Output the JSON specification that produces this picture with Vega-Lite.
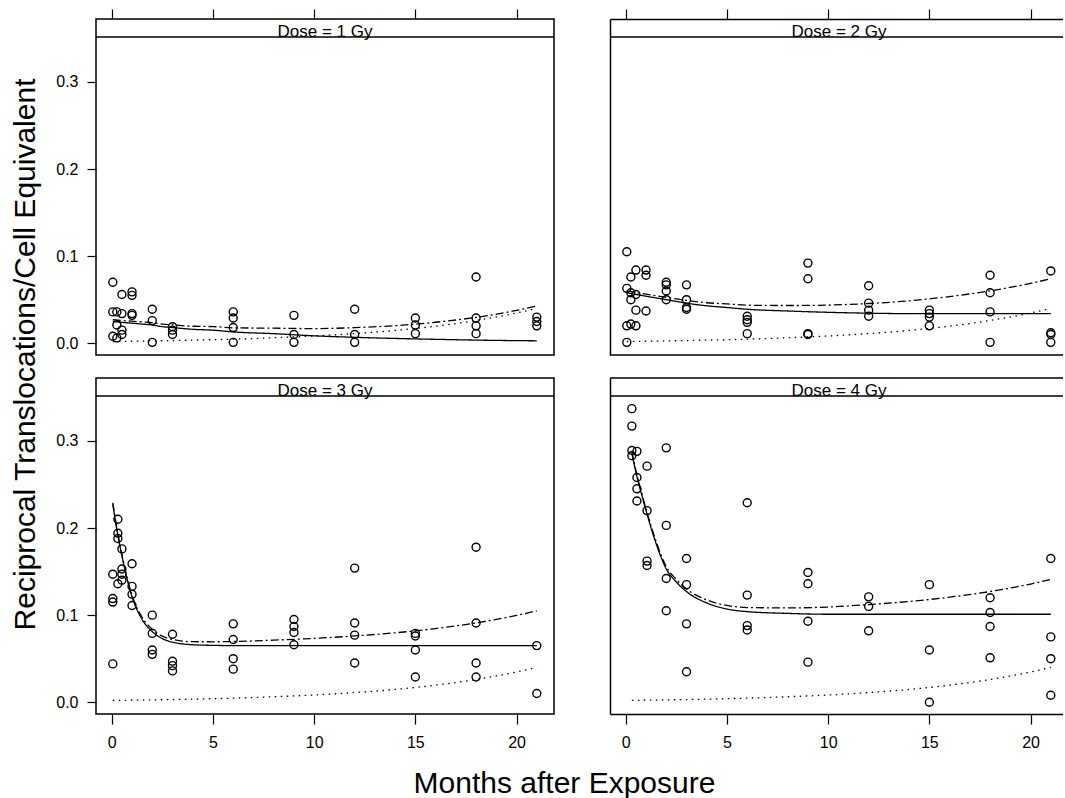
{
"$schema": "https://vega.github.io/schema/vega-lite/v6.json",
"background": "white",
"autosize": {"type": "pad"},
"padding": {"left": 9, "top": 7, "right": -6, "bottom": 0},
"datasets": {
"pts": [
{"d":1,"t":0.05,"y":0.070},{"d":1,"t":0.05,"y":0.036},{"d":1,"t":0.05,"y":0.008},{"d":1,"t":0.25,"y":0.036},{"d":1,"t":0.25,"y":0.021},{"d":1,"t":0.25,"y":0.006},{"d":1,"t":0.5,"y":0.056},{"d":1,"t":0.5,"y":0.034},{"d":1,"t":0.5,"y":0.015},{"d":1,"t":0.5,"y":0.010},{"d":1,"t":1,"y":0.059},{"d":1,"t":1,"y":0.055},{"d":1,"t":1,"y":0.034},{"d":1,"t":1,"y":0.032},{"d":1,"t":2,"y":0.039},{"d":1,"t":2,"y":0.026},{"d":1,"t":2,"y":0.001},{"d":1,"t":3,"y":0.019},{"d":1,"t":3,"y":0.015},{"d":1,"t":3,"y":0.010},{"d":1,"t":6,"y":0.036},{"d":1,"t":6,"y":0.029},{"d":1,"t":6,"y":0.018},{"d":1,"t":6,"y":0.001},{"d":1,"t":9,"y":0.032},{"d":1,"t":9,"y":0.010},{"d":1,"t":9,"y":0.001},{"d":1,"t":12,"y":0.039},{"d":1,"t":12,"y":0.010},{"d":1,"t":12,"y":0.001},{"d":1,"t":15,"y":0.029},{"d":1,"t":15,"y":0.021},{"d":1,"t":15,"y":0.011},{"d":1,"t":18,"y":0.076},{"d":1,"t":18,"y":0.029},{"d":1,"t":18,"y":0.020},{"d":1,"t":18,"y":0.011},{"d":1,"t":21,"y":0.030},{"d":1,"t":21,"y":0.025},{"d":1,"t":21,"y":0.020},
{"d":2,"t":0.05,"y":0.105},{"d":2,"t":0.05,"y":0.063},{"d":2,"t":0.05,"y":0.020},{"d":2,"t":0.05,"y":0.001},{"d":2,"t":0.25,"y":0.076},{"d":2,"t":0.25,"y":0.058},{"d":2,"t":0.25,"y":0.050},{"d":2,"t":0.25,"y":0.022},{"d":2,"t":0.5,"y":0.084},{"d":2,"t":0.5,"y":0.056},{"d":2,"t":0.5,"y":0.038},{"d":2,"t":0.5,"y":0.020},{"d":2,"t":1,"y":0.084},{"d":2,"t":1,"y":0.078},{"d":2,"t":1,"y":0.037},{"d":2,"t":2,"y":0.070},{"d":2,"t":2,"y":0.067},{"d":2,"t":2,"y":0.060},{"d":2,"t":2,"y":0.050},{"d":2,"t":3,"y":0.067},{"d":2,"t":3,"y":0.050},{"d":2,"t":3,"y":0.041},{"d":2,"t":3,"y":0.039},{"d":2,"t":6,"y":0.031},{"d":2,"t":6,"y":0.027},{"d":2,"t":6,"y":0.024},{"d":2,"t":6,"y":0.011},{"d":2,"t":9,"y":0.092},{"d":2,"t":9,"y":0.074},{"d":2,"t":9,"y":0.011},{"d":2,"t":9,"y":0.010},{"d":2,"t":12,"y":0.066},{"d":2,"t":12,"y":0.046},{"d":2,"t":12,"y":0.038},{"d":2,"t":12,"y":0.031},{"d":2,"t":15,"y":0.038},{"d":2,"t":15,"y":0.034},{"d":2,"t":15,"y":0.030},{"d":2,"t":15,"y":0.020},{"d":2,"t":18,"y":0.078},{"d":2,"t":18,"y":0.058},{"d":2,"t":18,"y":0.036},{"d":2,"t":18,"y":0.001},{"d":2,"t":21,"y":0.083},{"d":2,"t":21,"y":0.012},{"d":2,"t":21,"y":0.010},{"d":2,"t":21,"y":0.001},
{"d":3,"t":0.05,"y":0.147},{"d":3,"t":0.05,"y":0.119},{"d":3,"t":0.05,"y":0.115},{"d":3,"t":0.05,"y":0.044},{"d":3,"t":0.3,"y":0.210},{"d":3,"t":0.3,"y":0.194},{"d":3,"t":0.3,"y":0.188},{"d":3,"t":0.3,"y":0.136},{"d":3,"t":0.5,"y":0.176},{"d":3,"t":0.5,"y":0.153},{"d":3,"t":0.5,"y":0.147},{"d":3,"t":0.5,"y":0.140},{"d":3,"t":1,"y":0.159},{"d":3,"t":1,"y":0.133},{"d":3,"t":1,"y":0.124},{"d":3,"t":1,"y":0.111},{"d":3,"t":2,"y":0.100},{"d":3,"t":2,"y":0.079},{"d":3,"t":2,"y":0.060},{"d":3,"t":2,"y":0.055},{"d":3,"t":3,"y":0.078},{"d":3,"t":3,"y":0.047},{"d":3,"t":3,"y":0.042},{"d":3,"t":3,"y":0.036},{"d":3,"t":6,"y":0.090},{"d":3,"t":6,"y":0.072},{"d":3,"t":6,"y":0.050},{"d":3,"t":6,"y":0.038},{"d":3,"t":9,"y":0.095},{"d":3,"t":9,"y":0.087},{"d":3,"t":9,"y":0.080},{"d":3,"t":9,"y":0.066},{"d":3,"t":12,"y":0.154},{"d":3,"t":12,"y":0.091},{"d":3,"t":12,"y":0.077},{"d":3,"t":12,"y":0.045},{"d":3,"t":15,"y":0.079},{"d":3,"t":15,"y":0.076},{"d":3,"t":15,"y":0.060},{"d":3,"t":15,"y":0.029},{"d":3,"t":18,"y":0.178},{"d":3,"t":18,"y":0.091},{"d":3,"t":18,"y":0.045},{"d":3,"t":18,"y":0.029},{"d":3,"t":21,"y":0.065},{"d":3,"t":21,"y":0.010},
{"d":4,"t":0.3,"y":0.337},{"d":4,"t":0.3,"y":0.317},{"d":4,"t":0.3,"y":0.289},{"d":4,"t":0.3,"y":0.283},{"d":4,"t":0.55,"y":0.288},{"d":4,"t":0.55,"y":0.258},{"d":4,"t":0.55,"y":0.245},{"d":4,"t":0.55,"y":0.231},{"d":4,"t":1.05,"y":0.271},{"d":4,"t":1.05,"y":0.220},{"d":4,"t":1.05,"y":0.162},{"d":4,"t":1.05,"y":0.157},{"d":4,"t":2,"y":0.292},{"d":4,"t":2,"y":0.203},{"d":4,"t":2,"y":0.142},{"d":4,"t":2,"y":0.105},{"d":4,"t":3,"y":0.165},{"d":4,"t":3,"y":0.135},{"d":4,"t":3,"y":0.090},{"d":4,"t":3,"y":0.035},{"d":4,"t":6,"y":0.229},{"d":4,"t":6,"y":0.123},{"d":4,"t":6,"y":0.088},{"d":4,"t":6,"y":0.083},{"d":4,"t":9,"y":0.149},{"d":4,"t":9,"y":0.136},{"d":4,"t":9,"y":0.093},{"d":4,"t":9,"y":0.046},{"d":4,"t":12,"y":0.121},{"d":4,"t":12,"y":0.110},{"d":4,"t":12,"y":0.082},{"d":4,"t":15,"y":0.135},{"d":4,"t":15,"y":0.060},{"d":4,"t":15,"y":0.000},{"d":4,"t":18,"y":0.120},{"d":4,"t":18,"y":0.103},{"d":4,"t":18,"y":0.087},{"d":4,"t":18,"y":0.051},{"d":4,"t":21,"y":0.165},{"d":4,"t":21,"y":0.075},{"d":4,"t":21,"y":0.050},{"d":4,"t":21,"y":0.008}
],
"fits": [
{"d":1,"c":"fit","t":0.05,"y":0.025},{"d":1,"c":"fit","t":0.5,"y":0.024},{"d":1,"c":"fit","t":1,"y":0.023},{"d":1,"c":"fit","t":1.5,"y":0.022},{"d":1,"c":"fit","t":2,"y":0.021},{"d":1,"c":"fit","t":2.5,"y":0.019},{"d":1,"c":"fit","t":3,"y":0.018},{"d":1,"c":"fit","t":4,"y":0.016},{"d":1,"c":"fit","t":5,"y":0.015},{"d":1,"c":"fit","t":6,"y":0.013},{"d":1,"c":"fit","t":8,"y":0.011},{"d":1,"c":"fit","t":10,"y":0.0085},{"d":1,"c":"fit","t":12,"y":0.0068},{"d":1,"c":"fit","t":14,"y":0.0055},{"d":1,"c":"fit","t":16,"y":0.0045},{"d":1,"c":"fit","t":18,"y":0.0036},{"d":1,"c":"fit","t":20,"y":0.003},{"d":1,"c":"fit","t":21,"y":0.0028},
{"d":1,"c":"sum","t":0.05,"y":0.027},{"d":1,"c":"sum","t":0.5,"y":0.0261},{"d":1,"c":"sum","t":1,"y":0.0253},{"d":1,"c":"sum","t":1.5,"y":0.0245},{"d":1,"c":"sum","t":2,"y":0.0237},{"d":1,"c":"sum","t":2.5,"y":0.0219},{"d":1,"c":"sum","t":3,"y":0.0211},{"d":1,"c":"sum","t":4,"y":0.0195},{"d":1,"c":"sum","t":5,"y":0.0191},{"d":1,"c":"sum","t":6,"y":0.0177},{"d":1,"c":"sum","t":8,"y":0.0173},{"d":1,"c":"sum","t":10,"y":0.0168},{"d":1,"c":"sum","t":12,"y":0.0179},{"d":1,"c":"sum","t":14,"y":0.0202},{"d":1,"c":"sum","t":16,"y":0.0241},{"d":1,"c":"sum","t":18,"y":0.0297},{"d":1,"c":"sum","t":20,"y":0.0377},{"d":1,"c":"sum","t":21,"y":0.0428},
{"d":1,"c":"trend","t":0.05,"y":0.002},{"d":1,"c":"trend","t":3,"y":0.0031},{"d":1,"c":"trend","t":6,"y":0.0047},{"d":1,"c":"trend","t":8,"y":0.0063},{"d":1,"c":"trend","t":10,"y":0.0083},{"d":1,"c":"trend","t":12,"y":0.0111},{"d":1,"c":"trend","t":14,"y":0.0147},{"d":1,"c":"trend","t":16,"y":0.0196},{"d":1,"c":"trend","t":18,"y":0.0261},{"d":1,"c":"trend","t":20,"y":0.0347},{"d":1,"c":"trend","t":21,"y":0.040},
{"d":2,"c":"fit","t":0.05,"y":0.058},{"d":2,"c":"fit","t":0.5,"y":0.056},{"d":2,"c":"fit","t":1,"y":0.054},{"d":2,"c":"fit","t":1.5,"y":0.052},{"d":2,"c":"fit","t":2,"y":0.050},{"d":2,"c":"fit","t":2.5,"y":0.048},{"d":2,"c":"fit","t":3,"y":0.046},{"d":2,"c":"fit","t":4,"y":0.043},{"d":2,"c":"fit","t":5,"y":0.041},{"d":2,"c":"fit","t":6,"y":0.039},{"d":2,"c":"fit","t":8,"y":0.037},{"d":2,"c":"fit","t":10,"y":0.0355},{"d":2,"c":"fit","t":12,"y":0.0345},{"d":2,"c":"fit","t":14,"y":0.034},{"d":2,"c":"fit","t":16,"y":0.034},{"d":2,"c":"fit","t":18,"y":0.034},{"d":2,"c":"fit","t":20,"y":0.034},{"d":2,"c":"fit","t":21,"y":0.034},
{"d":2,"c":"sum","t":0.05,"y":0.060},{"d":2,"c":"sum","t":0.5,"y":0.0581},{"d":2,"c":"sum","t":1,"y":0.0563},{"d":2,"c":"sum","t":1.5,"y":0.0545},{"d":2,"c":"sum","t":2,"y":0.0527},{"d":2,"c":"sum","t":2.5,"y":0.0509},{"d":2,"c":"sum","t":3,"y":0.0491},{"d":2,"c":"sum","t":4,"y":0.0465},{"d":2,"c":"sum","t":5,"y":0.0451},{"d":2,"c":"sum","t":6,"y":0.0437},{"d":2,"c":"sum","t":8,"y":0.0433},{"d":2,"c":"sum","t":10,"y":0.0438},{"d":2,"c":"sum","t":12,"y":0.0456},{"d":2,"c":"sum","t":14,"y":0.0487},{"d":2,"c":"sum","t":16,"y":0.0536},{"d":2,"c":"sum","t":18,"y":0.0601},{"d":2,"c":"sum","t":20,"y":0.0687},{"d":2,"c":"sum","t":21,"y":0.074},
{"d":2,"c":"trend","t":0.05,"y":0.002},{"d":2,"c":"trend","t":3,"y":0.0031},{"d":2,"c":"trend","t":6,"y":0.0047},{"d":2,"c":"trend","t":8,"y":0.0063},{"d":2,"c":"trend","t":10,"y":0.0083},{"d":2,"c":"trend","t":12,"y":0.0111},{"d":2,"c":"trend","t":14,"y":0.0147},{"d":2,"c":"trend","t":16,"y":0.0196},{"d":2,"c":"trend","t":18,"y":0.0261},{"d":2,"c":"trend","t":20,"y":0.0347},{"d":2,"c":"trend","t":21,"y":0.040},
{"d":3,"c":"fit","t":0.05,"y":0.227},{"d":3,"c":"fit","t":0.25,"y":0.198},{"d":3,"c":"fit","t":0.5,"y":0.168},{"d":3,"c":"fit","t":0.75,"y":0.142},{"d":3,"c":"fit","t":1,"y":0.121},{"d":3,"c":"fit","t":1.5,"y":0.095},{"d":3,"c":"fit","t":2,"y":0.081},{"d":3,"c":"fit","t":2.5,"y":0.073},{"d":3,"c":"fit","t":3,"y":0.069},{"d":3,"c":"fit","t":4,"y":0.066},{"d":3,"c":"fit","t":5,"y":0.0653},{"d":3,"c":"fit","t":6,"y":0.065},{"d":3,"c":"fit","t":8,"y":0.065},{"d":3,"c":"fit","t":10,"y":0.065},{"d":3,"c":"fit","t":12,"y":0.065},{"d":3,"c":"fit","t":14,"y":0.065},{"d":3,"c":"fit","t":16,"y":0.065},{"d":3,"c":"fit","t":18,"y":0.065},{"d":3,"c":"fit","t":20,"y":0.065},{"d":3,"c":"fit","t":21,"y":0.065},
{"d":3,"c":"sum","t":0.05,"y":0.229},{"d":3,"c":"sum","t":0.25,"y":0.200},{"d":3,"c":"sum","t":0.5,"y":0.170},{"d":3,"c":"sum","t":0.75,"y":0.144},{"d":3,"c":"sum","t":1,"y":0.123},{"d":3,"c":"sum","t":1.5,"y":0.0975},{"d":3,"c":"sum","t":2,"y":0.0837},{"d":3,"c":"sum","t":2.5,"y":0.0759},{"d":3,"c":"sum","t":3,"y":0.0721},{"d":3,"c":"sum","t":4,"y":0.0695},{"d":3,"c":"sum","t":5,"y":0.0694},{"d":3,"c":"sum","t":6,"y":0.0697},{"d":3,"c":"sum","t":8,"y":0.0713},{"d":3,"c":"sum","t":10,"y":0.0733},{"d":3,"c":"sum","t":12,"y":0.0761},{"d":3,"c":"sum","t":14,"y":0.0797},{"d":3,"c":"sum","t":16,"y":0.0846},{"d":3,"c":"sum","t":18,"y":0.0911},{"d":3,"c":"sum","t":20,"y":0.0997},{"d":3,"c":"sum","t":21,"y":0.105},
{"d":3,"c":"trend","t":0.05,"y":0.002},{"d":3,"c":"trend","t":3,"y":0.0031},{"d":3,"c":"trend","t":6,"y":0.0047},{"d":3,"c":"trend","t":8,"y":0.0063},{"d":3,"c":"trend","t":10,"y":0.0083},{"d":3,"c":"trend","t":12,"y":0.0111},{"d":3,"c":"trend","t":14,"y":0.0147},{"d":3,"c":"trend","t":16,"y":0.0196},{"d":3,"c":"trend","t":18,"y":0.0261},{"d":3,"c":"trend","t":20,"y":0.0347},{"d":3,"c":"trend","t":21,"y":0.040},
{"d":4,"c":"fit","t":0.3,"y":0.286},{"d":4,"c":"fit","t":0.55,"y":0.259},{"d":4,"c":"fit","t":0.8,"y":0.237},{"d":4,"c":"fit","t":1.05,"y":0.216},{"d":4,"c":"fit","t":1.5,"y":0.182},{"d":4,"c":"fit","t":2,"y":0.153},{"d":4,"c":"fit","t":2.5,"y":0.138},{"d":4,"c":"fit","t":3,"y":0.127},{"d":4,"c":"fit","t":4,"y":0.114},{"d":4,"c":"fit","t":5,"y":0.107},{"d":4,"c":"fit","t":6,"y":0.104},{"d":4,"c":"fit","t":8,"y":0.102},{"d":4,"c":"fit","t":10,"y":0.101},{"d":4,"c":"fit","t":12,"y":0.101},{"d":4,"c":"fit","t":14,"y":0.101},{"d":4,"c":"fit","t":16,"y":0.101},{"d":4,"c":"fit","t":18,"y":0.101},{"d":4,"c":"fit","t":20,"y":0.101},{"d":4,"c":"fit","t":21,"y":0.101},
{"d":4,"c":"sum","t":0.3,"y":0.288},{"d":4,"c":"sum","t":0.55,"y":0.261},{"d":4,"c":"sum","t":0.8,"y":0.239},{"d":4,"c":"sum","t":1.05,"y":0.218},{"d":4,"c":"sum","t":1.5,"y":0.1845},{"d":4,"c":"sum","t":2,"y":0.1557},{"d":4,"c":"sum","t":2.5,"y":0.1409},{"d":4,"c":"sum","t":3,"y":0.1301},{"d":4,"c":"sum","t":4,"y":0.1175},{"d":4,"c":"sum","t":5,"y":0.1111},{"d":4,"c":"sum","t":6,"y":0.1087},{"d":4,"c":"sum","t":8,"y":0.1083},{"d":4,"c":"sum","t":10,"y":0.1093},{"d":4,"c":"sum","t":12,"y":0.1121},{"d":4,"c":"sum","t":14,"y":0.1157},{"d":4,"c":"sum","t":16,"y":0.1206},{"d":4,"c":"sum","t":18,"y":0.1271},{"d":4,"c":"sum","t":20,"y":0.1357},{"d":4,"c":"sum","t":21,"y":0.141},
{"d":4,"c":"trend","t":0.3,"y":0.0021},{"d":4,"c":"trend","t":3,"y":0.0031},{"d":4,"c":"trend","t":6,"y":0.0047},{"d":4,"c":"trend","t":8,"y":0.0063},{"d":4,"c":"trend","t":10,"y":0.0083},{"d":4,"c":"trend","t":12,"y":0.0111},{"d":4,"c":"trend","t":14,"y":0.0147},{"d":4,"c":"trend","t":16,"y":0.0196},{"d":4,"c":"trend","t":18,"y":0.0261},{"d":4,"c":"trend","t":20,"y":0.0347},{"d":4,"c":"trend","t":21,"y":0.040}
]
},
"columns": 2,
"spacing": {"row": 23, "column": 56},
"bounds": "flush",
"concat": [
 {"width": 458, "height": 336, "layer": [
   {"data": {"name": "fits"}, "transform": [{"filter": "datum.d == 1"}], "mark": {"type": "line", "interpolate": "monotone", "color": "black", "strokeWidth": 1.3},
    "encoding": {
     "x": {"field": "t", "type": "quantitative", "scale": {"domain": [-0.78, 21.85], "nice": false, "zero": false}, "axis": {"orient": "top", "values": [0, 5, 10, 15, 20], "labels": false, "tickSize": 10, "title": null}},
     "y": {"field": "y", "type": "quantitative", "scale": {"domain": [-0.0135, 0.3722], "nice": false, "zero": false}, "axis": {"values": [0, 0.1, 0.2, 0.3], "format": ".1f", "tickSize": 9, "labelPadding": 9, "labelFontSize": 16, "title": null}},
     "strokeDash": {"field": "c", "type": "nominal", "scale": {"domain": ["fit", "sum", "trend"], "range": [[1, 0], [8, 3, 2, 3], [1.5, 4.5]]}, "legend": null}}},
   {"data": {"name": "pts"}, "transform": [{"filter": "datum.d == 1"}], "mark": {"type": "point", "shape": "circle", "filled": false, "color": "black", "size": 64, "strokeWidth": 1.4, "opacity": 1},
    "encoding": {"x": {"field": "t", "type": "quantitative"}, "y": {"field": "y", "type": "quantitative"}}},
   {"data": {"values": [{"lab": "Dose = 1 Gy"}]}, "mark": {"type": "rule", "color": "black", "strokeWidth": 1.5}, "encoding": {"y": {"datum": 0.3515, "type": "quantitative"}}},
   {"data": {"values": [{"lab": "Dose = 1 Gy"}]}, "mark": {"type": "text", "fontSize": 17, "baseline": "alphabetic", "dy": -0.5, "color": "black"}, "encoding": {"y": {"datum": 0.3515, "type": "quantitative"}, "text": {"field": "lab"}}}
 ]},
 {"width": 458, "height": 336, "view": {"stroke": null}, "layer": [
   {"data": {"name": "fits"}, "transform": [{"filter": "datum.d == 2"}], "mark": {"type": "line", "interpolate": "monotone", "color": "black", "strokeWidth": 1.3},
    "encoding": {
     "x": {"field": "t", "type": "quantitative", "scale": {"domain": [-0.78, 21.85], "nice": false, "zero": false}, "axis": {"orient": "top", "values": [0, 5, 10, 15, 20], "labels": false, "tickSize": 10, "title": null, "domain": true}},
     "y": {"field": "y", "type": "quantitative", "scale": {"domain": [-0.0135, 0.3722], "nice": false, "zero": false}, "axis": {"values": [], "ticks": false, "labels": false, "domain": true, "title": null}},
     "strokeDash": {"field": "c", "type": "nominal", "scale": {"domain": ["fit", "sum", "trend"], "range": [[1, 0], [8, 3, 2, 3], [1.5, 4.5]]}, "legend": null}}},
   {"data": {"name": "pts"}, "transform": [{"filter": "datum.d == 2"}], "mark": {"type": "point", "shape": "circle", "filled": false, "color": "black", "size": 64, "strokeWidth": 1.4, "opacity": 1},
    "encoding": {"x": {"field": "t", "type": "quantitative"}, "y": {"field": "y", "type": "quantitative"}}},
   {"data": {"values": [{"lab": "Dose = 2 Gy"}]}, "mark": {"type": "rule", "color": "black", "strokeWidth": 1.5}, "encoding": {"y": {"datum": 0.3515, "type": "quantitative"}}},
   {"data": {"values": [{"lab": "Dose = 2 Gy"}]}, "mark": {"type": "rule", "color": "black", "strokeWidth": 1.5}, "encoding": {"y": {"datum": -0.0135, "type": "quantitative"}}},
   {"data": {"values": [{"lab": "Dose = 2 Gy"}]}, "mark": {"type": "text", "fontSize": 17, "baseline": "alphabetic", "dy": -0.5, "color": "black"}, "encoding": {"y": {"datum": 0.3515, "type": "quantitative"}, "text": {"field": "lab"}}}
 ]},
 {"width": 458, "height": 336, "layer": [
   {"data": {"name": "fits"}, "transform": [{"filter": "datum.d == 3"}], "mark": {"type": "line", "interpolate": "monotone", "color": "black", "strokeWidth": 1.3},
    "encoding": {
     "x": {"field": "t", "type": "quantitative", "scale": {"domain": [-0.78, 21.85], "nice": false, "zero": false}, "axis": {"orient": "bottom", "values": [0, 5, 10, 15, 20], "tickSize": 10, "labelPadding": 10, "labelFontSize": 16, "title": "Months after Exposure", "titleFontSize": 30, "titleX": 468, "titleY": 69, "titleBaseline": "middle", "titleAlign": "center"}},
     "y": {"field": "y", "type": "quantitative", "scale": {"domain": [-0.0135, 0.3722], "nice": false, "zero": false}, "axis": {"values": [0, 0.1, 0.2, 0.3], "format": ".1f", "tickSize": 9, "labelPadding": 9, "labelFontSize": 16, "title": "Reciprocal Translocations/Cell Equivalent", "titleFontSize": 30, "titleX": -71, "titleY": -24, "titleAngle": 270, "titleBaseline": "middle", "titleAlign": "center"}},
     "strokeDash": {"field": "c", "type": "nominal", "scale": {"domain": ["fit", "sum", "trend"], "range": [[1, 0], [8, 3, 2, 3], [1.5, 4.5]]}, "legend": null}}},
   {"data": {"name": "pts"}, "transform": [{"filter": "datum.d == 3"}], "mark": {"type": "point", "shape": "circle", "filled": false, "color": "black", "size": 64, "strokeWidth": 1.4, "opacity": 1},
    "encoding": {"x": {"field": "t", "type": "quantitative"}, "y": {"field": "y", "type": "quantitative"}}},
   {"data": {"values": [{"lab": "Dose = 3 Gy"}]}, "mark": {"type": "rule", "color": "black", "strokeWidth": 1.5}, "encoding": {"y": {"datum": 0.3515, "type": "quantitative"}}},
   {"data": {"values": [{"lab": "Dose = 3 Gy"}]}, "mark": {"type": "text", "fontSize": 17, "baseline": "alphabetic", "dy": -0.5, "color": "black"}, "encoding": {"y": {"datum": 0.3515, "type": "quantitative"}, "text": {"field": "lab"}}}
 ]},
 {"width": 458, "height": 336, "view": {"stroke": null}, "layer": [
   {"data": {"name": "fits"}, "transform": [{"filter": "datum.d == 4"}], "mark": {"type": "line", "interpolate": "monotone", "color": "black", "strokeWidth": 1.3},
    "encoding": {
     "x": {"field": "t", "type": "quantitative", "scale": {"domain": [-0.78, 21.85], "nice": false, "zero": false}, "axis": {"orient": "bottom", "values": [0, 5, 10, 15, 20], "tickSize": 10, "labelPadding": 10, "labelFontSize": 16, "title": null, "domain": true}},
     "y": {"field": "y", "type": "quantitative", "scale": {"domain": [-0.0135, 0.3722], "nice": false, "zero": false}, "axis": {"values": [], "ticks": false, "labels": false, "domain": true, "title": null}},
     "strokeDash": {"field": "c", "type": "nominal", "scale": {"domain": ["fit", "sum", "trend"], "range": [[1, 0], [8, 3, 2, 3], [1.5, 4.5]]}, "legend": null}}},
   {"data": {"name": "pts"}, "transform": [{"filter": "datum.d == 4"}], "mark": {"type": "point", "shape": "circle", "filled": false, "color": "black", "size": 64, "strokeWidth": 1.4, "opacity": 1},
    "encoding": {"x": {"field": "t", "type": "quantitative"}, "y": {"field": "y", "type": "quantitative"}}},
   {"data": {"values": [{"lab": "Dose = 4 Gy"}]}, "mark": {"type": "rule", "color": "black", "strokeWidth": 1.5}, "encoding": {"y": {"datum": 0.3515, "type": "quantitative"}}},
   {"data": {"values": [{"lab": "Dose = 4 Gy"}]}, "mark": {"type": "rule", "color": "black", "strokeWidth": 1.5}, "encoding": {"y": {"datum": 0.3722, "type": "quantitative"}}},
   {"data": {"values": [{"lab": "Dose = 4 Gy"}]}, "mark": {"type": "text", "fontSize": 17, "baseline": "alphabetic", "dy": -0.5, "color": "black"}, "encoding": {"y": {"datum": 0.3515, "type": "quantitative"}, "text": {"field": "lab"}}}
 ]}
],
"config": {
 "font": "Liberation Sans",
 "view": {"stroke": "black", "strokeWidth": 1.5},
 "axis": {"domain": false, "domainColor": "black", "domainWidth": 1.5, "grid": false, "tickColor": "black", "tickWidth": 1.2, "labelColor": "black", "titleColor": "black", "labelFont": "Liberation Sans", "titleFont": "Liberation Sans", "titleFontWeight": "normal"}
}
}
